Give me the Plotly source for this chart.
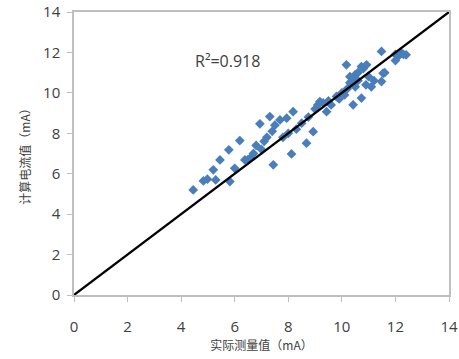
import plotly.graph_objects as go

measured = [4.45, 4.83, 4.98, 5.2, 5.29, 5.45, 5.78, 5.82, 6.0, 6.19, 6.38, 6.5, 6.6, 6.7, 6.8, 6.94,
            7.0, 7.1, 7.2, 7.31, 7.44, 7.4, 7.5, 7.69, 7.8, 7.94, 8.0, 8.12, 8.18, 8.3, 8.5, 8.68,
            8.75, 8.93, 9.0, 9.1, 9.18, 9.3, 9.43, 9.5, 9.6, 9.8, 9.9, 10.0, 10.17, 10.1, 10.2, 10.3,
            10.3, 10.42, 10.4, 10.5, 10.5, 10.6, 10.6, 10.73, 10.73, 10.8, 10.92, 10.9, 11.0, 11.1,
            11.2, 11.48, 11.54, 11.48, 11.6, 12.0, 12.1, 12.23, 12.3, 12.4, 12.0]
calculated = [5.2, 5.64, 5.73, 6.19, 5.69, 6.68, 7.18, 5.61, 6.27, 7.64, 6.68, 6.7, 6.8, 7.0, 7.4, 8.47,
              7.2, 7.6, 7.8, 8.83, 6.44, 8.1, 8.4, 8.66, 7.8, 8.75, 8.0, 6.98, 9.07, 8.2, 8.5, 7.51,
              8.8, 8.08, 9.2, 9.4, 9.57, 9.5, 9.07, 9.6, 9.4, 9.82, 9.7, 10.0, 11.39, 9.9, 10.2, 10.5,
              10.8, 9.41, 10.7, 10.9, 10.3, 11.0, 10.6, 11.3, 9.74, 11.2, 11.39, 10.4, 10.8, 10.3,
              10.6, 12.05, 10.97, 10.56, 11.0, 11.6, 11.8, 11.96, 11.9, 11.88, 11.9]
ref_line = [0, 14]
ticks = [0, 2, 4, 6, 8, 10, 12, 14]
r2_text = "R²=0.918"
x_title = "实际测量值（mA）"
y_title = "计算电流值（mA）"

fig = go.Figure()
fig.add_trace(go.Scatter(x=measured, y=calculated, mode="markers",
                         marker=dict(symbol="diamond", size=7.5, color="#4a7ebb"),
                         showlegend=False))
fig.add_trace(go.Scatter(x=ref_line, y=ref_line, mode="lines",
                         line=dict(color="black", width=2.2), showlegend=False))

fig.add_annotation(x=4.45, y=11.6, xanchor="left", yanchor="middle", text=r2_text,
                   showarrow=False, font=dict(size=16, color="#404040", family="Open Sans"))

axis_common = dict(range=[0, 14], tickvals=ticks, showgrid=False, zeroline=False,
                   showline=True, linecolor="#bfbfbf", linewidth=1.5, mirror=True,
                   ticks="outside", ticklen=5, tickcolor="#bfbfbf", automargin=False,
                   tickfont=dict(size=15, color="#404040", family="Open Sans"))

fig.update_xaxes(**axis_common, ticklabelstandoff=12,
                 title=dict(text=x_title, font=dict(size=12, color="#404040", family="Noto Sans CJK SC"),
                            standoff=4))
fig.update_yaxes(**axis_common, ticklabelstandoff=4,
                 title=dict(text=y_title, font=dict(size=12, color="#404040", family="Noto Sans CJK SC"),
                            standoff=10))

fig.update_layout(width=459, height=359, margin=dict(l=74, r=10, t=12, b=64),
                  plot_bgcolor="white", paper_bgcolor="white")

fig.write_html("out.html", config={"displayModeBar": False})

with open("out.html", "r", encoding="utf-8") as f:
    html = f.read()
html = html.replace("<head>", "<head><style>html,body{margin:0;padding:0;overflow:hidden;}</style>", 1)
with open("out.html", "w", encoding="utf-8") as f:
    f.write(html)
